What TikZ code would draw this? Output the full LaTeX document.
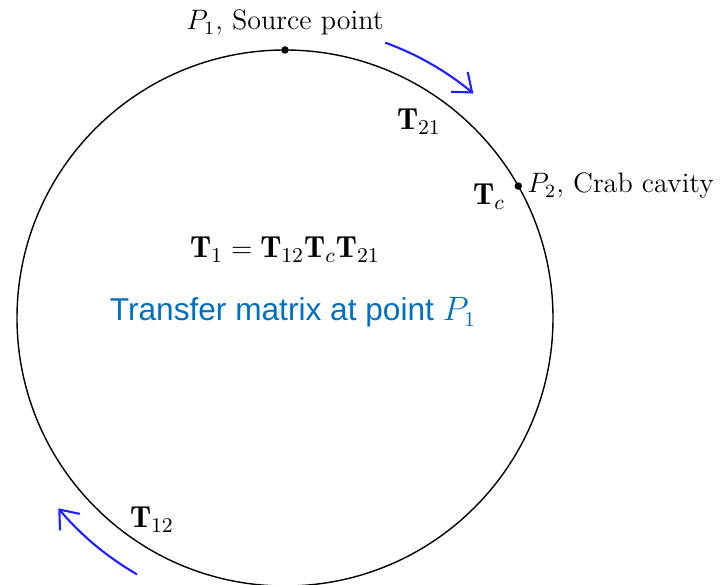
\documentclass[tikz,border=0pt]{standalone}
\usepackage{amsmath}
\usepackage{fontspec}
\newfontfamily\slidefont{Liberation Sans}
\usetikzlibrary{arrows.meta}
\definecolor{slideblue}{RGB}{0,112,192}
\definecolor{flowblue}{RGB}{30,30,255}

\begin{document}
\begin{tikzpicture}[x=0.015cm, y=0.015cm, font=\large,
    lbl/.style={inner sep=0pt, anchor=base},
    mlbl/.style={lbl, font=\fontsize{13}{16}\selectfont},
    flow/.style={flowblue, line width=0.9pt, -{Straight Barb[length=7pt, width=11pt]}}]
            \useasboundingbox (0,0) rectangle (722,585);
            % ring
            \coordinate (ctr) at (285,267);
            \draw[line width=0.6pt] (ctr) circle[radius=268];
            \coordinate (p1) at ([shift={(90:268)}]ctr);
            \coordinate (p2) at ([shift={(29.5:268)}]ctr);
            \fill (p1) circle[radius=1.6pt];
            \fill (p2) circle[radius=1.6pt];

            % labels on the ring
            \node[lbl] (srclbl) at (285,555) {$P_1$, Source point};
            \node[lbl, anchor=base west] (cavlbl) at (527,392) {$P_2$, Crab cavity};
            \node[mlbl] (t21) at (419,455) {$\mathbf{T}_{21}$};
            \node[mlbl] (tc) at (489,380) {$\mathbf{T}_c$};
            \node[mlbl] (t12) at (152,57) {$\mathbf{T}_{12}$};

            % inside
            \node[mlbl] (prod) at (285,327) {$\mathbf{T}_1=\mathbf{T}_{12}\mathbf{T}_c\mathbf{T}_{21}$};
            \node[lbl, text=slideblue, font=\slidefont\fontsize{13.5}{16}\selectfont] (note) at (293,264) {Transfer matrix at point $P_1$};

            % direction of travel
            \draw[flow] ([shift={(70:293)}]ctr) arc[start angle=70, end angle=50, radius=293];
            \draw[flow] ([shift={(-120:296)}]ctr) arc[start angle=-120, end angle=-140, radius=296];
        \end{tikzpicture}
\end{document}
